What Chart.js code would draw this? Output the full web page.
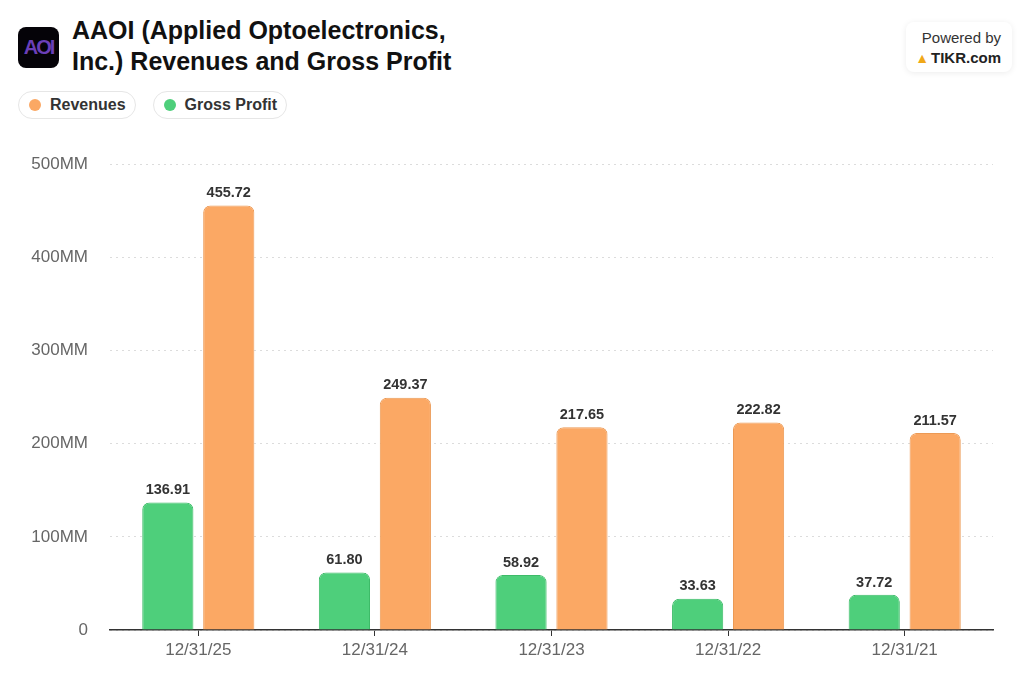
<!DOCTYPE html>
<html lang="en">
<head>
    <meta charset="UTF-8">
    <title>AAOI Revenues and Gross Profit</title>
    <style>
        body {
            margin: 0;
            width: 1024px;
            height: 683px;
            background: #fff;
            font-family: "Liberation Sans", Arial, Helvetica, sans-serif;
            position: relative;
            overflow: hidden;
        }
        .logo {
            position: absolute;
            left: 18px;
            top: 27px;
            width: 41px;
            height: 41px;
            border-radius: 8px;
            background: #050308;
            color: #6b3fb8;
            font-weight: bold;
            font-size: 20px;
            letter-spacing: -2px;
            line-height: 41px;
            text-align: center;
        }
        .title {
            position: absolute;
            left: 72px;
            top: 15px;
            font-size: 25px;
            font-weight: bold;
            line-height: 31px;
            color: #111;
        }
        .legend {
            position: absolute;
            left: 18px;
            top: 91px;
            display: flex;
            gap: 17px;
        }
        .pill {
            height: 26px;
            border: 1px solid #e6e6e6;
            border-radius: 14px;
            padding: 0 9px 0 10px;
            display: flex;
            align-items: center;
            font-size: 16px;
            font-weight: bold;
            color: #333;
        }
        .dot {
            width: 12px;
            height: 12px;
            border-radius: 50%;
            margin-right: 9px;
        }
        .powered {
            position: absolute;
            left: 906px;
            top: 22px;
            width: 106px;
            height: 50px;
            border-radius: 8px;
            box-shadow: 0 1px 6px rgba(0,0,0,0.08);
            text-align: right;
        }
        .powered .p1 {
            position: absolute;
            right: 11px;
            top: 7px;
            font-size: 15px;
            color: #333;
            white-space: nowrap;
        }
        .powered .p2 {
            position: absolute;
            right: 11px;
            top: 27px;
            font-size: 15px;
            font-weight: bold;
            color: #222;
            white-space: nowrap;
        }
        .powered .tri {
            color: #f0a818;
            font-size: 14px;
            margin-right: 2px;
        }
        .chart-box {
            position: absolute;
            left: 0;
            top: 132px;
            width: 1024px;
            height: 551px;
        }
    </style>
</head>
<body>

<div class="logo">AOI</div>
<div class="title">AAOI (Applied Optoelectronics,<br>Inc.) Revenues and Gross Profit</div>
<div class="legend">
    <div class="pill"><span class="dot" style="background:#fba864"></span>Revenues</div>
    <div class="pill"><span class="dot" style="background:#4ecf7b"></span>Gross Profit</div>
</div>
<div class="powered">
    <div class="p1">Powered by</div>
    <div class="p2"><span class="tri">&#9650;</span>TIKR.com</div>
</div>

<div class="chart-box"><canvas id="chart"></canvas></div>

<script src="https://cdn.jsdelivr.net/npm/chart.js"></script>
<script>
    // данные (млн USD)
    const periods = ['12/31/25', '12/31/24', '12/31/23', '12/31/22', '12/31/21'];
    const grossProfit = [136.91, 61.80, 58.92, 33.63, 37.72];
    const revenues = [455.72, 249.37, 217.65, 222.82, 211.57];
    const yTicks = [0, 100, 200, 300, 400, 500];

    // подписи над столбцами
    const valueLabels = {
        id: 'valueLabels',
        afterDatasetsDraw(chart) {
            const ctx = chart.ctx;
            ctx.save();
            ctx.font = 'bold 14.5px "Liberation Sans", Arial, sans-serif';
            ctx.fillStyle = '#333';
            ctx.textAlign = 'center';
            ctx.textBaseline = 'bottom';
            chart.data.datasets.forEach((ds, i) => {
                chart.getDatasetMeta(i).data.forEach((bar, j) => {
                    ctx.fillText(ds.data[j].toFixed(2), bar.x, bar.y - 5);
                });
            });
            ctx.restore();
        }
    };

    new Chart(document.getElementById('chart'), {
        type: 'bar',
        data: {
            labels: periods,
            datasets: [{
                label: 'Gross Profit',
                data: grossProfit,
                backgroundColor: '#4ecf7b',
                borderColor: '#3dbb68',
                borderWidth: 1,
                borderSkipped: 'bottom',
                borderRadius: {topLeft: 7, topRight: 7},
                barPercentage: 0.84,
                categoryPercentage: 0.69
            }, {
                label: 'Revenues',
                data: revenues,
                backgroundColor: '#fba864',
                borderColor: '#ec9a55',
                borderWidth: 1,
                borderSkipped: 'bottom',
                borderRadius: {topLeft: 7, topRight: 7},
                barPercentage: 0.84,
                categoryPercentage: 0.69
            }]
        },
        options: {
            responsive: true,
            maintainAspectRatio: false,
            animation: false,
            layout: {padding: {top: 13, right: 31, left: 0, bottom: 0}},
            plugins: {
                legend: {display: false},
                tooltip: {enabled: false}
            },
            scales: {
                x: {
                    afterFit(scale) { scale.height = 53; },
                    grid: {
                        offset: false,
                        drawOnChartArea: false,
                        drawTicks: true,
                        tickLength: 6,
                        tickColor: '#333'
                    },
                    border: {display: true, color: '#333', width: 1.5},
                    ticks: {
                        color: '#666',
                        font: {size: 17, family: '"Liberation Sans", Arial, sans-serif'},
                        padding: 4
                    }
                },
                y: {
                    min: 0,
                    max: 500,
                    afterFit(scale) { scale.width = 110; },
                    afterBuildTicks(scale) {
                        scale.ticks = yTicks.map(v => ({value: v}));
                    },
                    grid: {
                        color: '#dcdcdc',
                        drawTicks: false,
                        lineWidth: 1
                    },
                    border: {display: false, dash: [2, 4]},
                    ticks: {
                        color: '#666',
                        padding: 22,
                        font: {size: 17, family: '"Liberation Sans", Arial, sans-serif'},
                        callback: v => v === 0 ? '0' : v + 'MM'
                    }
                }
            }
        },
        plugins: [valueLabels]
    });
</script>

</body>
</html>
